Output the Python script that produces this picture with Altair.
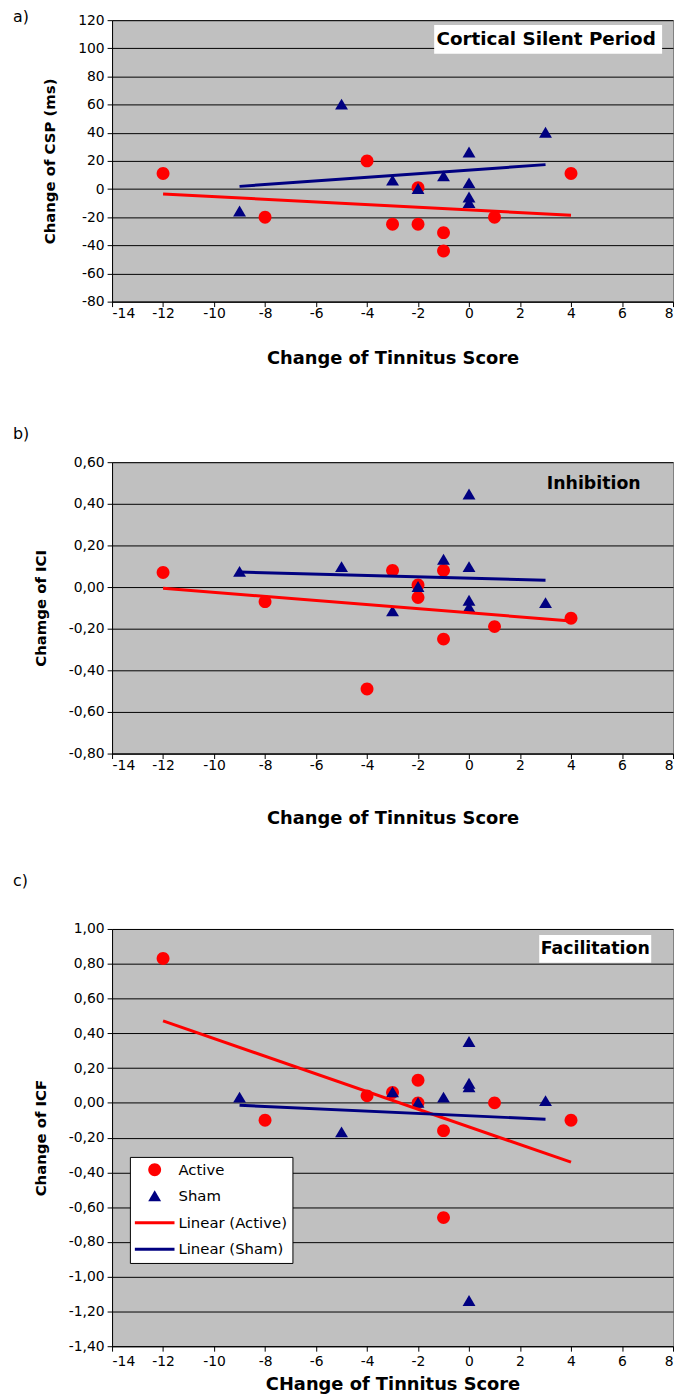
import altair as alt
import pandas as pd

FONT = "DejaVu Sans"

# ---- data ----
ACTIVE_SCORE = [-12, -8, -4, -3, -2, -2, -1, -1, 1, 4]
SHAM_SCORE = [-9, -5, -3, -2, -1, 0, 0, 0, 0, 3]

CSP_ACTIVE = [11, -20, 20, -25, -25, 1, -31, -44, -20, 11]
CSP_SHAM = [-16, 60, 6, 0, 9, 26, 4, -6, -10, 40]

ICI_ACTIVE = [0.07, -0.07, -0.49, 0.08, 0.01, -0.05, 0.08, -0.25, -0.19, -0.15]
ICI_SHAM = [0.073, 0.096, -0.117, 0.0, 0.131, 0.445, 0.096, -0.066, -0.099, -0.077]

ICF_ACTIVE = [0.83, -0.10, 0.04, 0.06, 0.13, 0.00, -0.16, -0.66, 0.00, -0.10]
ICF_SHAM = [0.03, -0.17, 0.06, 0.00, 0.03, 0.35, 0.11, 0.09, -1.14, 0.01]

LEGEND_ITEMS = ["Active", "Sham", "Linear (Active)", "Linear (Sham)"]
X_TICKS = [-14, -12, -10, -8, -6, -4, -2, 0, 2, 4, 6, 8]
CSP_TICKS = [-80, -60, -40, -20, 0, 20, 40, 60, 80, 100, 120]
ICI_TICKS = [-0.8, -0.6, -0.4, -0.2, 0.0, 0.2, 0.4, 0.6]
ICF_TICKS = [-1.4, -1.2, -1.0, -0.8, -0.6, -0.4, -0.2, 0.0, 0.2, 0.4, 0.6, 0.8, 1.0]

# symbol shapes (unit = sqrt(size)/2 px)
CIRCLE = "M0.8125,0A0.8125,0.8125,0,1,1,-0.8125,0A0.8125,0.8125,0,1,1,0.8125,0Z"
TRIANGLE = "M0,-0.75L0.8125,0.625L-0.8125,0.625Z"
BAR = "M-2.5,-0.1875L2.5,-0.1875L2.5,0.1875L-2.5,0.1875Z"
SYM_SIZE = 256

color_scale = alt.Scale(domain=LEGEND_ITEMS, range=["#FF0000", "#000080", "#FF0000", "#000080"])
shape_scale = alt.Scale(domain=LEGEND_ITEMS, range=[CIRCLE, TRIANGLE, BAR, BAR])

legend = alt.Legend(
    title=None, orient="none", legendX=18, legendY=1147,
    fillColor="white", strokeColor="black", padding=5, rowPadding=10.7,
    labelFont=FONT, labelFontSize=15, labelColor="black",
    symbolSize=SYM_SIZE, symbolStrokeWidth=0, labelOffset=16, symbolOffset=12,
)

COMMA_FMT = "(datum.value < -0.001 ? '-' : '') + replace(format(abs(datum.value), '.2f'), '.', ',')"
INT_FMT = "'' + datum.value"


def frame(active_y, sham_y):
    return pd.DataFrame({
        "score": ACTIVE_SCORE + SHAM_SCORE,
        "change": active_y + sham_y,
        "group": ["Active"] * len(ACTIVE_SCORE) + ["Sham"] * len(SHAM_SCORE),
    })


def panel(df, ticks, ydomain, ytitle, yfmt, h, xtitle, xlabpad, xpad, tag, tag_y,
          title, tcx, tcy, tfs, box, spacer_y):
    x = alt.X("score:Q", scale=alt.Scale(domain=[-14, 8], nice=False, zero=False),
              axis=alt.Axis(values=X_TICKS, title=xtitle, labelExpr=INT_FMT, labelPadding=xlabpad,
                            titlePadding=xpad, grid=False, labelOverlap=False))
    y = alt.Y("change:Q", scale=alt.Scale(domain=ydomain, nice=False, zero=False),
              axis=alt.Axis(values=ticks, title=ytitle, labelExpr=yfmt, grid=True,
                            labelOverlap=False))
    pts = alt.Chart(df).mark_point(filled=True, size=SYM_SIZE, opacity=1, strokeWidth=0).encode(
        x=x, y=y,
        color=alt.Color("group:N", scale=color_scale, legend=legend),
        shape=alt.Shape("group:N", scale=shape_scale, legend=legend),
    )
    lines = (
        alt.Chart(df)
        .transform_regression("score", "change", groupby=["group"])
        .transform_calculate(group="'Linear (' + datum.group + ')'")
        .mark_line(strokeWidth=3)
        .encode(x=x, y=y,
                color=alt.Color("group:N", scale=color_scale, legend=legend))
    )
    layers = []
    ann = pd.DataFrame({"t": [title]})
    if box is not None:
        layers.append(alt.Chart(ann).mark_rect(color="white").encode(
            x=alt.value(box[0]), x2=alt.value(box[1]), y=alt.value(box[2]), y2=alt.value(box[3])))
    layers += [pts, lines]
    layers.append(alt.Chart(ann).mark_text(font=FONT, fontSize=tfs, fontWeight="bold", color="black",
                                          align="center", baseline="middle").encode(
        x=alt.value(tcx), y=alt.value(tcy), text="t:N"))
    layers.append(alt.Chart(pd.DataFrame({"t": [tag]})).mark_text(
        font=FONT, fontSize=16, color="black", align="left", baseline="top").encode(
        x=alt.value(-100), y=alt.value(tag_y), text="t:N"))
    if spacer_y is not None:
        layers.append(alt.Chart(pd.DataFrame({"t": ["."]})).mark_text(
            font=FONT, fontSize=10, opacity=0, baseline="bottom").encode(
            x=alt.value(0), y=alt.value(spacer_y), text="t:N"))
    return alt.layer(*layers).properties(width=566, height=h)


pa = panel(frame(CSP_ACTIVE, CSP_SHAM), CSP_TICKS, [-80, 120], "Change of CSP (ms)", INT_FMT, 284,
           "Change of Tinnitus Score", 0, 29, "a)", -11,
           "Cortical Silent Period", 438, 19.5, 18.5, (325, 555, 5, 34), 408)
pb = panel(frame(ICI_ACTIVE, ICI_SHAM), ICI_TICKS, [-0.8, 0.6], "Chamge of ICI", COMMA_FMT, 294,
           "Change of Tinnitus Score", 0, 38, "b)", -36,
           "Inhibition", 486, 22, 17.5, None, 413)
pc = panel(frame(ICF_ACTIVE, ICF_SHAM), ICF_TICKS, [-1.4, 1.0], "Change of ICF", COMMA_FMT, 421,
           "CHange of Tinnitus Score", 3, 8, "c)", -56,
           "Facilitation", 487.5, 20, 17.5, (431, 544, 6, 34), None)

chart = (
    alt.vconcat(pa, pb, pc, spacing=0)
    .properties(padding={"left": 4, "top": -6, "right": 0, "bottom": 0})
    .configure(font=FONT)
    .configure_view(fill="#C0C0C0", stroke="#808080", strokeWidth=1)
    .configure_axis(labelFont=FONT, labelFontSize=14, labelColor="black", titleFont=FONT,
                    titleFontWeight="bold", titleColor="black", tickColor="black",
                    domainColor="black", gridColor="black", gridWidth=1, tickSize=5)
    .configure_axisX(titleFontSize=18)
    .configure_axisY(titleFontSize=15, labelPadding=3, titlePadding=20)
)

chart.save("out.html", embed_options={"renderer": "svg", "actions": False})
